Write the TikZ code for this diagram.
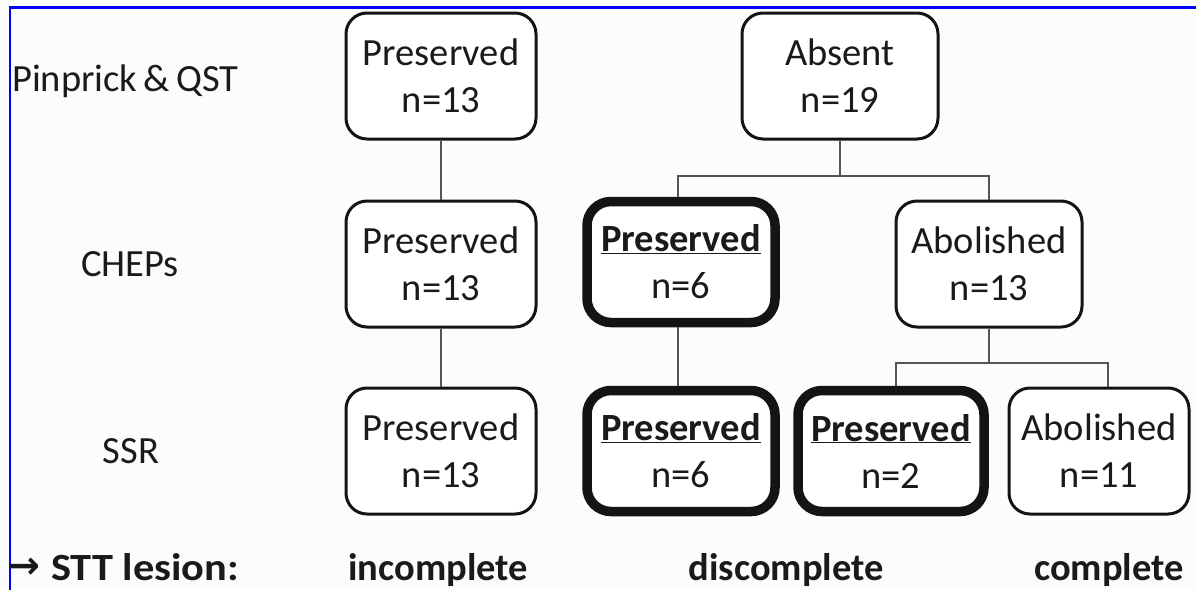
\documentclass[tikz,border=0pt]{standalone}
\usepackage{fontspec}
\usepackage{graphicx}
\setmainfont{Carlito}
\newfontfamily\arrowfont{DejaVu Sans}
\definecolor{txt}{HTML}{1A1A1A}
\definecolor{bg}{HTML}{FCFCFA}
\definecolor{conncol}{HTML}{555555}
\begin{document}
\begin{tikzpicture}[x=1pt,y=-1pt,
  every node/.style={text=txt},
  big/.style={font=\fontsize{38.5}{47}\selectfont},
  box/.style={big, draw=black!92, line width=3pt, rounded corners=21pt, align=center,
     minimum height=126pt, inner sep=0pt, fill=white},
  boldbox/.style={box, line width=9.5pt, minimum height=121pt, rounded corners=24pt},
  conn/.style={draw=conncol, line width=1.4pt},
  lbl/.style={big, anchor=base, inner sep=0pt},
  blbl/.style={lbl, font=\fontsize{38.5}{47}\selectfont\bfseries}
]
\useasboundingbox (0,0) rectangle (1196,590);
\fill[bg] (0,0) rectangle (1196,590);
% blue frame
\draw[blue, line width=2.6pt] (1196,7.5) -- (10,7.5) -- (10,590);

% row labels
\node[lbl, anchor=base west] (l1) at (12,91) {Pinprick\,\&\,QST};
\node[lbl] (l2) at (130,276) {CHEPs};
\node[lbl] (l3) at (131,463) {SSR};

% boxes
\node[box, minimum width=190pt] (p1) at (441,76) {Preserved\\n=13};
\node[box, minimum width=196pt] (ab) at (840,76) {Absent\\n=19};
\node[box, minimum width=190pt] (p2) at (441,264) {Preserved\\n=13};
\node[boldbox, minimum width=188pt] (b2) at (681,262) {\textbf{\underline{Preserved}}\\n=6};
\node[box, minimum width=186pt] (a2) at (989,264) {Abolished\\n=13};
\node[box, minimum width=190pt] (p3) at (441,451) {Preserved\\n=13};
\node[boldbox, minimum width=188pt] (b3a) at (681,451) {\textbf{\underline{Preserved}}\\n=6};
\node[boldbox, minimum width=186pt] (b3b) at (891,451) {\textbf{\underline{Preserved}}\\n=2};
\node[box, minimum width=180pt] (a3) at (1099,451) {Abolished\\n=11};

% connectors
\coordinate (j1) at (840,176);
\coordinate (j2) at (989,363);
\draw[conn] (p1) -- (p2);
\draw[conn] (p2) -- (p3);
\draw[conn] (ab) -- (j1);
\draw[conn] ([xshift=-3pt]b2.north) |- (j1) -| (a2.north);
\draw[conn] ([xshift=-3pt]b2.south) -- ([xshift=-3pt]b3a.north);
\draw[conn] (a2) -- (j2);
\draw[conn] ([xshift=5pt]b3b.north) |- (j2) -| ([xshift=9pt]a3.north);

% bottom line
\node[blbl, anchor=base west] (arr) at (8,578) {\arrowfont\bfseries\fontsize{38}{44}\selectfont →};
\node[blbl, anchor=base west] (stt) at (51,580) {\scalebox{1.1}[1]{STT lesion:}};
\node[blbl] (c1) at (438,580) {incomplete};
\node[blbl] (c2) at (786,580) {discomplete};
\node[blbl] (c3) at (1109,580) {complete};
\end{tikzpicture}
\end{document}
